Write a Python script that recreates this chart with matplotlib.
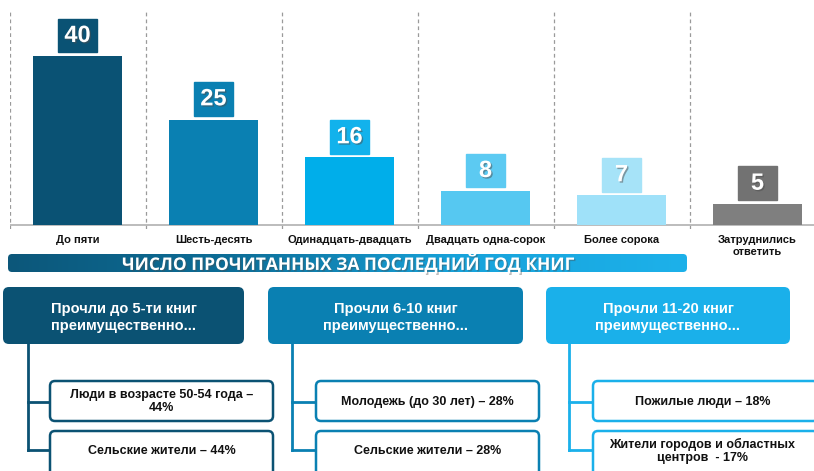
import matplotlib
matplotlib.use("Agg")
import matplotlib.pyplot as plt
import numpy as np
from matplotlib.patches import FancyBboxPatch, Rectangle
from matplotlib.colors import LinearSegmentedColormap
import matplotlib.patheffects as pe

# ---------------- data ----------------
categories = ["До пяти", "Шесть-десять", "Одинадцать-двадцать",
              "Двадцать одна-сорок", "Более сорока", "Затруднились\nответить"]
values = [40, 25, 16, 8, 7, 5]
bar_colors = ["#0a5274", "#0a80b2", "#00aeea", "#56c8f1", "#9fe1f9", "#7f7f7f"]
label_colors = ["#0a5274", "#0a80b2", "#12b2ec", "#5ccaf2", "#a6e3f8", "#727272"]

banner_title = "ЧИСЛО ПРОЧИТАННЫХ ЗА ПОСЛЕДНИЙ ГОД КНИГ"
group_titles = ["Прочли до 5-ти книг\nпреимущественно...",
                "Прочли 6-10 книг\nпреимущественно...",
                "Прочли 11-20 книг\nпреимущественно..."]
group_colors = ["#0b5273", "#0a80b2", "#1ab0ea"]
group_items = [
    ["Люди в возрасте 50-54 года –\n44%", "Сельские жители – 44%"],
    ["Молодежь (до 30 лет) – 28%", "Сельские жители – 28%"],
    ["Пожилые люди – 18%", "Жители городов и областных\nцентров  - 17%"],
]

FONT = "Liberation Sans"
W, H = 814, 471
fig = plt.figure(figsize=(W / 100, H / 100), dpi=100)
fig.patch.set_facecolor("white")

def px_axes(x0, y0, x1, y1):
    # pixel box (top-left origin) -> figure fraction
    return [x0 / W, 1 - y1 / H, (x1 - x0) / W, (y1 - y0) / H]

# ---------------- bar chart ----------------
ax = fig.add_axes(px_axes(9.5, 10, 814, 229))
x = np.arange(len(categories))
ax.set_xlim(-0.5, (814 - 77.5) / 136)
ax.set_ylim(-4 / 4.22, 215 / 4.22)
ax.axis("off")
ax.bar(x, values, width=0.655, color=bar_colors, zorder=2)
ax.axhline(0, color="#b0b0b0", lw=1.2, zorder=1)
for b in np.arange(-0.5, 6, 1.0):
    ax.axvline(b, color="#9a9a9a", lw=0.9, ls=(0, (3, 2.5)), zorder=0)
for xi, v, c in zip(x, values, label_colors):
    ax.add_patch(Rectangle((xi - 0.14, v + 0.9), 0.28, 8.0, color=c, zorder=3))
    ax.text(xi, v + 0.9 + 4.0, str(v), ha="center", va="center", color="white",
            fontsize=17, fontweight="bold", family=FONT, zorder=4,
            path_effects=[pe.withSimplePatchShadow(offset=(1, -1), alpha=0.5)])

# ---------------- overlay (pixel coords) ----------------
ov = fig.add_axes([0, 0, 1, 1])
ov.set_xlim(0, W)
ov.set_ylim(H, 0)
ov.axis("off")
ov.patch.set_alpha(0)

# category labels
for xi, cat in zip(x, categories):
    px = 77.5 + 136 * xi
    ov.text(px, 235, cat, ha="center", va="top", fontsize=8, fontweight="bold",
            family=FONT, color="#111111", linespacing=1.3)

# banner with gradient
bx0, bx1, by0, by1 = 8, 687, 254, 272
grad = np.linspace(0, 1, 256).reshape(1, -1)
cmap = LinearSegmentedColormap.from_list("g", ["#0c577a", "#0d6e98", "#17a3db", "#1db1ea"])
im = ov.imshow(grad, cmap=cmap, extent=(bx0, bx1, by1, by0), aspect="auto", zorder=1)
clip = FancyBboxPatch((bx0, by0), bx1 - bx0, by1 - by0,
                      boxstyle="round,pad=0,rounding_size=4", transform=ov.transData,
                      facecolor="none", edgecolor="none")
ov.add_patch(clip)
im.set_clip_path(clip)
ov.set_xlim(0, W)
ov.set_ylim(H, 0)
ov.text(348, (by0 + by1) / 2 + 0.5, banner_title, ha="center", va="center",
        color="white", fontsize=12.5, fontweight="bold", family="Open Sans", zorder=3,
        path_effects=[pe.withSimplePatchShadow(offset=(1, -1), alpha=0.4)])

# group boxes
group_x = [(3, 244), (268, 523), (546, 790)]
trunk_x = [28, 292, 569]
child_x = [(50, 273), (316, 539), (593, 818)]
gy0, gy1 = 287, 344
child_y = [(381, 421), (431, 478)]
branch_y = [402, 450]

for gi in range(3):
    c = group_colors[gi]
    x0, x1 = group_x[gi]
    ov.add_patch(FancyBboxPatch((x0, gy0), x1 - x0, gy1 - gy0,
                                boxstyle="round,pad=0,rounding_size=6",
                                facecolor=c, edgecolor="none", zorder=2))
    ov.text((x0 + x1) / 2, (gy0 + gy1) / 2 + 2, group_titles[gi], ha="center",
            va="center", color="white", fontsize=10.5, fontweight="bold",
            family=FONT, linespacing=1.3, zorder=3)
    tx = trunk_x[gi]
    ov.plot([tx, tx], [gy1, branch_y[1]], color=c, lw=2.0, zorder=1,
            solid_capstyle="projecting")
    cx0, cx1 = child_x[gi]
    for ci in range(2):
        ov.plot([tx, cx0], [branch_y[ci], branch_y[ci]], color=c, lw=2.0, zorder=1,
                solid_capstyle="projecting")
        cy0, cy1 = child_y[ci]
        ov.add_patch(FancyBboxPatch((cx0, cy0), cx1 - cx0, cy1 - cy0,
                                    boxstyle="round,pad=0,rounding_size=5",
                                    facecolor="white", edgecolor=c, lw=1.8, zorder=2))
        ty = (cy0 + 421) / 2 + 0.5 if ci == 0 else 451
        ov.text((cx0 + min(cx1, 812)) / 2, ty, group_items[gi][ci], ha="center",
                va="center", color="#111111", fontsize=9, fontweight="bold",
                family=FONT, linespacing=1.15, zorder=3)

fig.savefig("out.png", dpi=100, facecolor="white")
